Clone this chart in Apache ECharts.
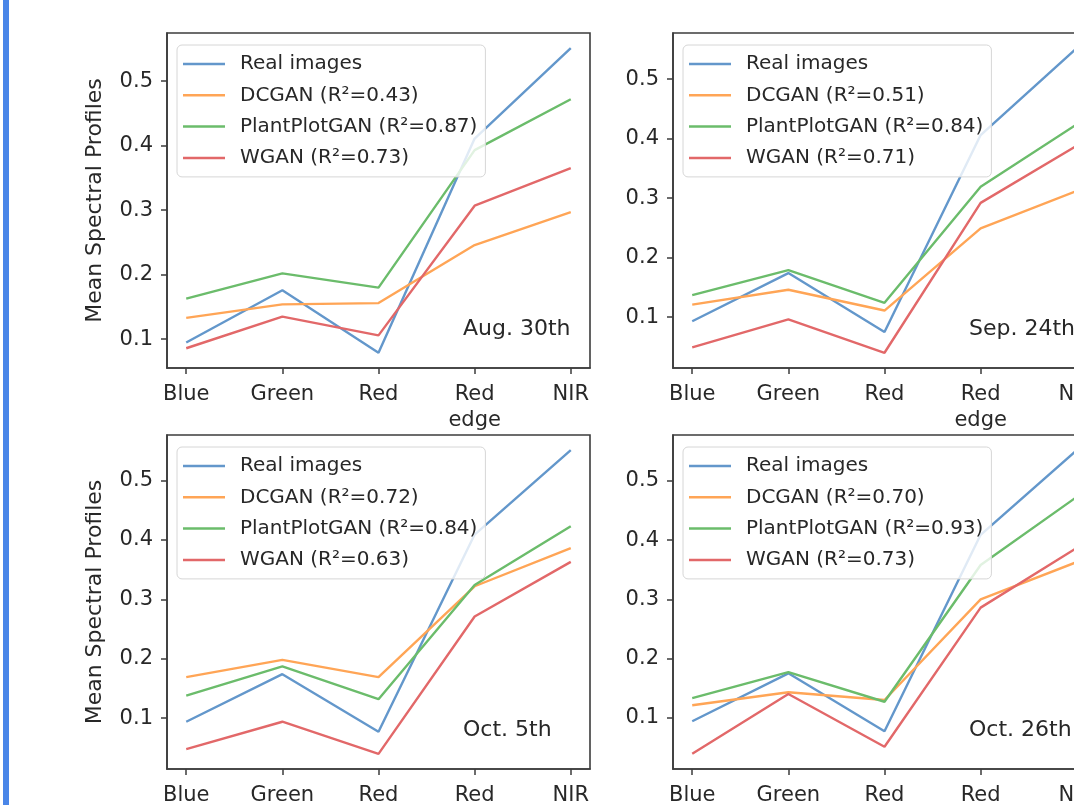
<!DOCTYPE html>
<html>
<head>
<meta charset="utf-8">
<title>Mean Spectral Profiles</title>
<script src="https://cdn.jsdelivr.net/npm/echarts/dist/echarts.min.js"></script>
<style>
  html, body { margin: 0; padding: 0; background: #fff; }
  #main { width: 1074px; height: 805px; }
</style>
</head>
<body>
<div id="main"></div>
<script>
// bands on the x axis
var bands = ['Blue', 'Green', 'Red', 'Red\nedge', 'NIR'];
var bandPos = [0, 1, 2, 3, 4];
var yTicks = [0.1, 0.2, 0.3, 0.4, 0.5];

// Aug. 30th
var aug30Real  = [0.095, 0.176, 0.079, 0.411, 0.551];
var aug30Dcgan = [0.133, 0.154, 0.156, 0.246, 0.297];
var aug30Plant = [0.163, 0.202, 0.180, 0.393, 0.472];
var aug30Wgan  = [0.086, 0.135, 0.106, 0.307, 0.365];
var aug30R2 = ['0.43', '0.87', '0.73'];

// Sep. 24th
var sep24Real  = [0.093, 0.174, 0.075, 0.406, 0.552];
var sep24Dcgan = [0.121, 0.146, 0.111, 0.249, 0.312];
var sep24Plant = [0.137, 0.179, 0.124, 0.319, 0.424];
var sep24Wgan  = [0.049, 0.096, 0.040, 0.292, 0.388];
var sep24R2 = ['0.51', '0.84', '0.71'];

// Oct. 5th
var oct5Real  = [0.094, 0.174, 0.077, 0.409, 0.551];
var oct5Dcgan = [0.169, 0.198, 0.169, 0.322, 0.386];
var oct5Plant = [0.138, 0.187, 0.132, 0.324, 0.423];
var oct5Wgan  = [0.048, 0.094, 0.040, 0.271, 0.363];
var oct5R2 = ['0.72', '0.84', '0.63'];

// Oct. 26th
var oct26Real  = [0.094, 0.175, 0.077, 0.409, 0.552];
var oct26Dcgan = [0.121, 0.143, 0.130, 0.300, 0.363];
var oct26Plant = [0.133, 0.177, 0.127, 0.358, 0.473];
var oct26Wgan  = [0.039, 0.140, 0.051, 0.286, 0.387];
var oct26R2 = ['0.70', '0.93', '0.73'];

var colors = ['#6397cb', '#ffa556', '#6bbc6b', '#e26869'];
var font = 'DejaVu Sans';
var ink = '#282828';
var frame = '#3c3c3c';

var panels = [
    { date: 'Aug. 30th', left: 167, top: 33,  height: 335, yName: true,  data: [aug30Real, aug30Dcgan, aug30Plant, aug30Wgan], r2: aug30R2 },
    { date: 'Sep. 24th', left: 673, top: 33,  height: 335, yName: false, data: [sep24Real, sep24Dcgan, sep24Plant, sep24Wgan], r2: sep24R2 },
    { date: 'Oct. 5th',  left: 167, top: 435, height: 334, yName: true,  data: [oct5Real, oct5Dcgan, oct5Plant, oct5Wgan], r2: oct5R2 },
    { date: 'Oct. 26th', left: 673, top: 435, height: 334, yName: false, data: [oct26Real, oct26Dcgan, oct26Plant, oct26Wgan], r2: oct26R2 }
];

function seriesNames(r2) {
    return ['Real images', 'DCGAN (R\u00b2=' + r2[0] + ')', 'PlantPlotGAN (R\u00b2=' + r2[1] + ')', 'WGAN (R\u00b2=' + r2[2] + ')'];
}

var grid = [], xAxis = [], yAxis = [], series = [], legend = [], graphic = [];

// blue bar on the left edge
graphic.push({ type: 'rect', shape: { x: 3, y: 0, width: 6, height: 805 }, style: { fill: '#4a86e8' } });

panels.forEach(function (p, i) {
    var names = seriesNames(p.r2);
    grid.push({
        left: p.left, top: p.top, width: 423, height: p.height,
        outerBoundsMode: 'none', containLabel: false,
        show: true, borderColor: frame, borderWidth: 1.6, backgroundColor: 'transparent'
    });
    xAxis.push({
        type: 'value', gridIndex: i, min: -0.2, max: 4.2,
        axisLine: { show: true, onZero: false, lineStyle: { color: frame, width: 1.6 } },
        splitLine: { show: false },
        axisTick: { show: true, length: 6, customValues: bandPos, lineStyle: { color: frame, width: 1.5 } },
        axisLabel: {
            customValues: bandPos, margin: 14,
            fontFamily: font, fontSize: 21, color: ink, lineHeight: 26,
            formatter: function (v) { return bands[Math.round(v)]; }
        }
    });
    yAxis.push({
        type: 'value', gridIndex: i,
        min: function (v) { return v.min - 0.05 * (v.max - v.min); },
        max: function (v) { return v.max + 0.05 * (v.max - v.min); },
        axisLine: { show: true, onZero: false, lineStyle: { color: frame, width: 1.6 } },
        splitLine: { show: false },
        axisTick: { show: true, length: 6, customValues: yTicks, lineStyle: { color: frame, width: 1.5 } },
        axisLabel: {
            customValues: yTicks, margin: 14,
            fontFamily: font, fontSize: 21, color: ink,
            formatter: function (v) { return v.toFixed(1); }
        },
        name: p.yName ? 'Mean Spectral Profiles' : '',
        nameLocation: 'middle', nameGap: 61,
        nameTextStyle: { fontFamily: font, fontSize: 22, color: ink }
    });
    p.data.forEach(function (vals, k) {
        series.push({
            name: names[k], type: 'line', xAxisIndex: i, yAxisIndex: i,
            symbol: 'none', silent: true, z: 2 + k * 0.1,
            lineStyle: { color: colors[k], width: 2.4 },
            itemStyle: { color: colors[k] },
            data: vals.map(function (v, j) { return [bandPos[j], v]; })
        });
    });
    legend.push({
        left: p.left + 10, top: p.top + 12, orient: 'vertical',
        data: names, selectedMode: false,
        icon: 'rect', itemWidth: 42, itemHeight: 2.5, itemGap: 11.3,
        padding: [9, 8, 9, 6],
        backgroundColor: 'rgba(255,255,255,0.8)',
        borderColor: '#d6d6d6', borderWidth: 1, borderRadius: 5,
        textStyle: { fontFamily: font, fontSize: 20, color: ink, lineHeight: 20, padding: [0, 0, 0, 10] }
    });
    graphic.push({
        type: 'text', x: p.left + 296, y: p.top + p.height - 39,
        style: { text: p.date, fontFamily: font, fontSize: 22, fill: ink, textVerticalAlign: 'middle' }
    });
});

var myChart = echarts.init(document.getElementById('main'));
myChart.setOption({
    animation: false,
    backgroundColor: '#fff',
    color: colors,
    grid: grid,
    xAxis: xAxis,
    yAxis: yAxis,
    legend: legend,
    graphic: graphic,
    series: series
});
</script>
</body>
</html>
